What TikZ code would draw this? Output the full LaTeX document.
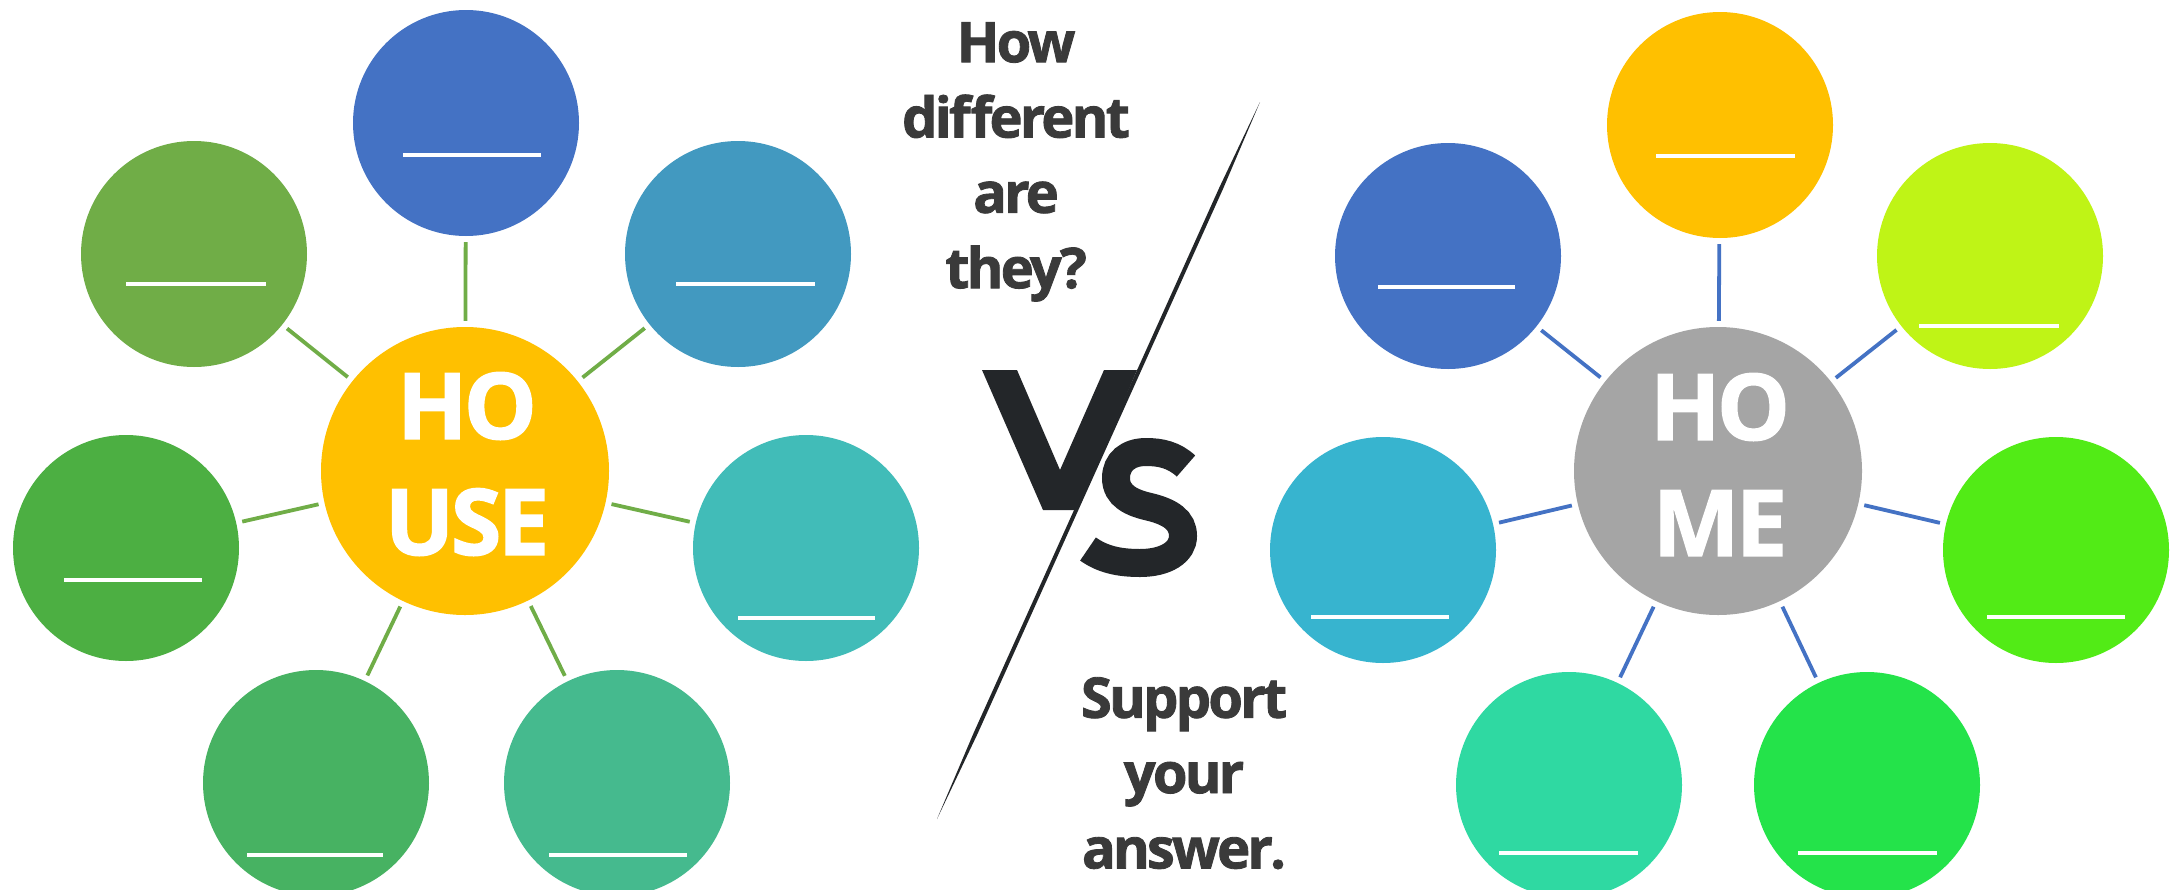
\documentclass[tikz,border=0pt]{standalone}
\usepackage{fontspec}
\setmainfont{Open Sans}
\newfontfamily\qfont[LetterSpace=-5, FakeBold=1.5, UprightFont={* Bold}]{Open Sans}
\newfontfamily\hfont[LetterSpace=-4, FakeBold=1.5, UprightFont={* Bold}]{Open Sans}
\usetikzlibrary{calc}
\definecolor{qtxt}{HTML}{3A3A3A}
\definecolor{vsdark}{HTML}{232629}
\definecolor{linkgreen}{HTML}{70AD47}
\definecolor{linkblue}{HTML}{4472C4}
\definecolor{hubyellow}{HTML}{FFC000}
\definecolor{hubgray}{HTML}{A5A5A5}
\definecolor{la}{HTML}{4472C4}
\definecolor{lb}{HTML}{4299C0}
\definecolor{lc}{HTML}{41BCB8}
\definecolor{ld}{HTML}{45BA8E}
\definecolor{le}{HTML}{47B262}
\definecolor{lf}{HTML}{4CAF42}
\definecolor{lg}{HTML}{70AD47}
\definecolor{ra}{HTML}{FFC000}
\definecolor{rb}{HTML}{BFF416}
\definecolor{rc}{HTML}{52EB16}
\definecolor{rd}{HTML}{24E34A}
\definecolor{re}{HTML}{2FD9A2}
\definecolor{rf}{HTML}{37B4CF}
\definecolor{rg}{HTML}{4472C4}
\begin{document}
\begin{tikzpicture}[x=1pt,y=-1pt,
  sat/.style={circle, minimum size=226pt, inner sep=0pt, draw=none},
  hub/.style={circle, minimum size=288pt, inner sep=0pt, draw=none},
  hubtext/.style={anchor=north, inner sep=0pt, align=center, text=white,
    font=\hfont\fontsize{92}{116}\selectfont},
  qtext/.style={anchor=north, inner sep=0pt, align=center, text=qtxt,
    font=\qfont\fontsize{56}{75.3}\selectfont},
  blank/.style={draw=white, line width=4pt},
  linkL/.style={draw=linkgreen, line width=3.8pt, shorten <=6pt, shorten >=6pt},
  linkR/.style={draw=linkblue, line width=3.8pt, shorten <=6pt, shorten >=6pt}]
\fill[white] (0,0) rectangle (2178,889);
\useasboundingbox (0,0) rectangle (2178,889);

% ---------- left cluster ----------
\node[hub, fill=hubyellow] (H) at (465,471) {};
\node[sat, fill=la] (L1) at (466,123) {};
\node[sat, fill=lb] (L2) at (738,254) {};
\node[sat, fill=lc] (L3) at (806,548) {};
\node[sat, fill=ld] (L4) at (617,783) {};
\node[sat, fill=le] (L5) at (316,783) {};
\node[sat, fill=lf] (L6) at (126,548) {};
\node[sat, fill=lg] (L7) at (194,254) {};
\foreach \n in {L1,L2,L3,L4,L5,L6,L7} \draw[linkL] (H) -- (\n);
\node[hubtext] (Ht) at (467,372) {HO\\USE};
\draw[blank] (403,155) -- (541,155);
\draw[blank] (676,284) -- (815,284);
\draw[blank] (738,618) -- (875,618);
\draw[blank] (549,855) -- (687,855);
\draw[blank] (247,855) -- (383,855);
\draw[blank] (64,580) -- (202,580);
\draw[blank] (126,284) -- (266,284);

% ---------- right cluster ----------
\node[hub, fill=hubgray] (M) at (1718,471) {};
\node[sat, fill=ra] (R1) at (1720,125) {};
\node[sat, fill=rb] (R2) at (1990,256) {};
\node[sat, fill=rc] (R3) at (2056,550) {};
\node[sat, fill=rd] (R4) at (1867,785) {};
\node[sat, fill=re] (R5) at (1569,785) {};
\node[sat, fill=rf] (R6) at (1383,550) {};
\node[sat, fill=rg] (R7) at (1448,256) {};
\foreach \n in {R1,R2,R3,R4,R5,R6,R7} \draw[linkR] (M) -- (\n);
\node[hubtext] (Mt) at (1720,373) {HO\\ME};
\draw[blank] (1656,156) -- (1795,156);
\draw[blank] (1919,326) -- (2059,326);
\draw[blank] (1987,617) -- (2125,617);
\draw[blank] (1798,853) -- (1937,853);
\draw[blank] (1499,853) -- (1638,853);
\draw[blank] (1311,617) -- (1449,617);
\draw[blank] (1378,287) -- (1515,287);

% ---------- middle ----------
\node[qtext] (q1) at (1016,22) {How\\different\\are\\they?};
\node[qtext] (q2) at (1184,677) {Support\\your\\answer.};

% V
\fill[vsdark] (982,370) -- (1017,370) -- (1060,470) -- (1104,370) -- (1137,370)
  -- (1077,510) -- (1043,510) -- cycle;
% S
\draw[vsdark, line width=28pt]
  (1186,466) .. controls (1174,455) and (1161,452) .. (1146,452)
  .. controls (1128,452) and (1116,462) .. (1116,478)
  .. controls (1116,496) and (1132,503) .. (1150,507)
  .. controls (1170,512) and (1183,520) .. (1183,536)
  .. controls (1183,552) and (1166,563) .. (1140,563)
  .. controls (1118,563) and (1102,559) .. (1088,549);
% slash
\coordinate (dA) at (1260,102);
\coordinate (dB) at (937,819);
\fill[vsdark] (dA) -- ($(dA)!0.12!(dB)+(1.8,0.8)$) -- ($(dA)!0.88!(dB)+(1.8,0.8)$)
  -- (dB) -- ($(dA)!0.88!(dB)-(1.8,0.8)$) -- ($(dA)!0.12!(dB)-(1.8,0.8)$) -- cycle;
\end{tikzpicture}
\end{document}
